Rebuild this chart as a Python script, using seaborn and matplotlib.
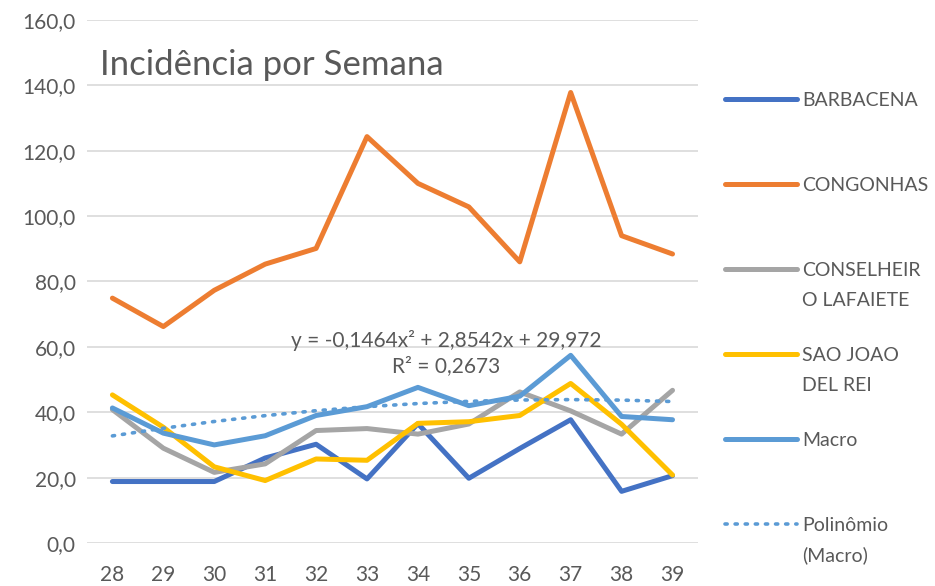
import numpy as np
import pandas as pd
import matplotlib
matplotlib.use("Agg")
import matplotlib.pyplot as plt
import seaborn as sns

weeks = [28, 29, 30, 31, 32, 33, 34, 35, 36, 37, 38, 39]
barbacena = [18.8, 18.8, 18.8, 26.0, 30.2, 19.6, 36.5, 19.8, 28.9, 37.7, 15.8, 20.6]
congonhas = [74.9, 66.2, 77.3, 85.3, 90.1, 124.3, 110.0, 102.8, 86.0, 137.8, 94.0, 88.4]
conselheiro = [40.8, 29.0, 21.6, 24.2, 34.4, 35.0, 33.3, 36.4, 46.2, 40.4, 33.3, 46.7]
sao_joao = [45.3, 35.4, 23.3, 19.1, 25.7, 25.3, 36.6, 37.1, 39.0, 48.8, 36.3, 20.8]
macro = [41.3, 33.6, 30.0, 32.8, 39.0, 41.7, 47.6, 42.0, 44.9, 57.4, 38.7, 37.7]

series = {
    "BARBACENA": barbacena,
    "CONGONHAS": congonhas,
    "CONSELHEIRO LAFAIETE": conselheiro,
    "SAO JOAO DEL REI": sao_joao,
    "Macro": macro,
}
# legend labels as shown, split where the reference wraps them
legend_first = ["BARBACENA", "CONGONHAS", "CONSELHEIR", "SAO JOAO", "Macro", "Polinômio"]
legend_second = ["", "", "O LAFAIETE", "DEL REI", "", "(Macro)"]
colors = ["#4472C4", "#ED7D31", "#A5A5A5", "#FFC000", "#5B9BD5"]

df = pd.DataFrame([(w, name, v) for name, vals in series.items() for w, v in zip(weeks, vals)],
                  columns=["semana", "local", "incidencia"])

sns.set_style("white")
plt.rcParams["font.family"] = ["Lato", "DejaVu Sans"]
text_color = "#595959"

fig = plt.figure(figsize=(9.35, 5.86), dpi=100)
ax = fig.add_axes([0.093, 0.0734, 0.6535, 0.8926])

sns.lineplot(data=df, x="semana", y="incidencia", hue="local", palette=colors,
             linewidth=3.6, ax=ax, legend=False, solid_capstyle="round")

# polynomial trend on Macro (order 2)
xi = np.arange(1, len(weeks) + 1)
coef = np.polyfit(xi, macro, 2)
trend = np.polyval(coef, xi)
ax.plot(weeks, trend, linestyle=(0, (0.6, 2.2)), color="#5B9BD5", linewidth=2.6,
        dash_capstyle="round")

ax.set_xlim(27.5, 39.5)
ax.set_ylim(0, 160)
ax.set_xticks(weeks)
ax.set_yticks(np.arange(0, 161, 20))
ax.set_yticklabels([f"{v:.1f}".replace(".", ",") for v in np.arange(0, 161, 20)])
ax.grid(axis="y", color="#D9D9D9", linewidth=1.2)
ax.set_axisbelow(True)
for s in ax.spines.values():
    s.set_visible(False)
ax.tick_params(axis="both", length=0, labelsize=15, labelcolor=text_color)
ax.tick_params(axis="y", pad=8)
ax.tick_params(axis="x", pad=16)
ax.set_xlabel("")
ax.set_ylabel("")

ax.text(0.022, 0.914, "Incidência por Semana", transform=ax.transAxes, fontsize=25,
        color=text_color, va="center", ha="left")
ax.text(34.55, 58.0, "y = -0,1464x² + 2,8542x + 29,972\nR² = 0,2673", fontsize=15,
        color=text_color, ha="center", va="center", linespacing=1.3)

handles = [plt.Line2D([], [], color=c, linewidth=3.6, solid_capstyle="round") for c in colors]
handles.append(plt.Line2D([], [], color="#5B9BD5", linewidth=2.6,
                          linestyle=(0, (0.6, 2.2)), dash_capstyle="round"))
leg = fig.legend(handles, legend_first, loc="upper left", bbox_to_anchor=(0.775, 0.843),
                 frameon=False, fontsize=14, handlelength=3.7, handletextpad=0.3,
                 labelspacing=3.5, borderpad=0, borderaxespad=0, labelcolor=text_color)

# second lines of the wrapped legend labels, placed under their first line
fig.canvas.draw()
inv = fig.transFigure.inverted()
for t, extra in zip(leg.get_texts(), legend_second):
    if not extra:
        continue
    bb = t.get_window_extent()
    x0, y0 = inv.transform((bb.x0, bb.y0 - 30))
    fig.text(x0, y0, extra, fontsize=14, color=text_color, ha="left", va="bottom")

fig.savefig("out.png", dpi=100)
